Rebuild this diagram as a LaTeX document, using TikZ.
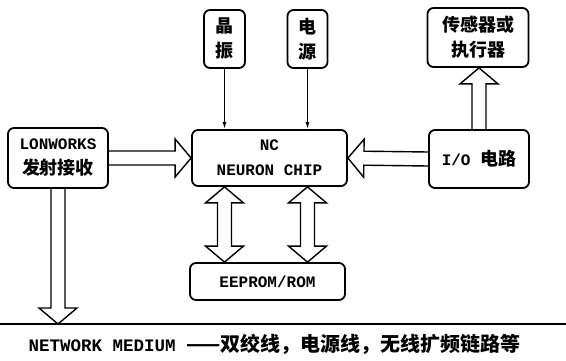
\documentclass[tikz,border=0pt]{standalone}
\usepackage{fontspec}
\setmainfont{Liberation Mono}
\newfontfamily\cjkfont{Noto Sans CJK SC}
\usepackage{tikz}
\usetikzlibrary{arrows.meta, calc}

\newcommand\cn[1]{{\cjkfont\fontsize{18}{25}\selectfont #1}}
% hollow block arrow from #1 to #2
\newcommand\hollowarrow[2]{%
  \draw[hollow] let \p1=(#1), \p2=(#2),
      \n1={atan2(\y2-\y1,\x2-\x1)}, \n2={veclen(\x2-\x1,\y2-\y1)} in
    [shift={(\p1)}, rotate=\n1]
    (0,-7) -- (\n2-16,-7) -- (\n2-16,-19) -- (\n2,0) -- (\n2-16,19) -- (\n2-16,7) -- (0,7);
}
% hollow block arrow with heads at both ends
\newcommand\dblarrow[2]{%
  \draw[hollow] let \p1=(#1), \p2=(#2),
      \n1={atan2(\y2-\y1,\x2-\x1)}, \n2={veclen(\x2-\x1,\y2-\y1)} in
    [shift={(\p1)}, rotate=\n1]
    (0,0) -- (16,-19) -- (16,-7) -- (\n2-16,-7) -- (\n2-16,-19) -- (\n2,0)
    -- (\n2-16,19) -- (\n2-16,7) -- (16,7) -- (16,19) -- cycle;
}

\begin{document}
\begin{tikzpicture}[
    x=1pt, y=-1pt,
    >={Latex[length=7pt, width=4pt]},
    font=\bfseries\fontsize{16}{25}\selectfont,
    box/.style={draw, rectangle, rounded corners=6pt, line width=1.8pt, align=center, inner sep=0pt},
    hollow/.style={line width=1.4pt, line join=miter},
    feed/.style={->, line width=1.2pt}
  ]
  \useasboundingbox (0,0) rectangle (566,361);

  % Top Row: clock, supply, actuators
  \node (xtal) at (224.5, 39) [box, minimum width=41pt, minimum height=58pt] {\cn{晶}\\\cn{振}};
  \node (power) at (307.5, 39) [box, minimum width=40pt, minimum height=58pt] {\cn{电}\\\cn{源}};
  \node (sensor) at (478, 37.5) [box, minimum width=101pt, minimum height=59pt] {\cn{传感器或}\\\cn{执行器}};

  % Middle Row: transceiver, neuron chip, I/O
  \node (lon) at (58, 158) [box, minimum width=100pt, minimum height=60pt] {LONWORKS\\\cn{发射接收}};
  \node (nc) at (269.5, 158) [box, minimum width=155pt, minimum height=56pt] {NC\\NEURON CHIP};
  \node (io) at (479, 159) [box, minimum width=100pt, minimum height=58pt] {I/O \cn{电路}};

  % Bottom Row: memory and medium
  \node (eeprom) at (267.5, 281.5) [box, minimum width=155pt, minimum height=37pt] {EEPROM/ROM};
  \coordinate (medium) at (0, 324);
  \node (caption) at (274.5, 344) [font=\bfseries\fontsize{17.5}{20}\selectfont] {NETWORK MEDIUM {\cjkfont\fontsize{20}{20}\selectfont ——双绞线，电源线，无线扩频链路等}};

  % Connections
  \draw[line width=2pt] (medium) -- ++(566,0);
  \draw[feed] (xtal.south) -- (xtal.south |- nc.north);
  \draw[feed] (power.south) -- (power.south |- nc.north);

  \hollowarrow{lon.east}{nc.west}
  \hollowarrow{io.west}{nc.east}
  \hollowarrow{io.north}{io.north |- sensor.south}
  \hollowarrow{lon.south}{lon.south |- medium}
  \dblarrow{xtal.south |- nc.south}{xtal.south |- eeprom.north}
  \dblarrow{power.south |- nc.south}{power.south |- eeprom.north}

\end{tikzpicture}
\end{document}
